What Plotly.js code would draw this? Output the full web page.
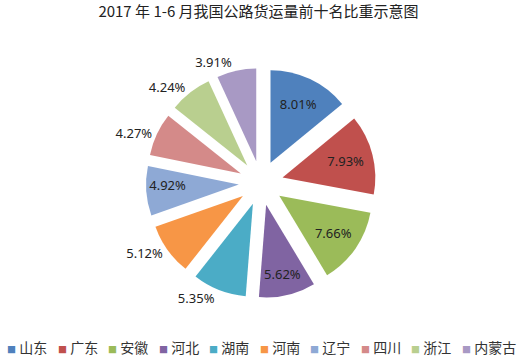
<!DOCTYPE html>
<html><head><meta charset="utf-8">
<script src="https://cdn.plot.ly/plotly-3.0.1.min.js"></script>
<style>body{margin:0;background:#fff}</style>
</head><body><div id="chart" style="width:517px;height:361px"></div>
<script>
const provinces = ['山东','广东','安徽','河北','湖南','河南','辽宁','四川','浙江','内蒙古'];
const shares = [8.01, 7.93, 7.66, 5.62, 5.35, 5.12, 4.92, 4.27, 4.24, 3.91];
const colors = ['#4F81BD','#C0504D','#9BBB59','#8064A2','#4BACC6','#F79646','#8EA9D5','#D48A89','#B9CF8F','#A899C4'];
const labelPos = ['inside','inside','inside','inside','outside','outside','inside','outside','outside','outside'];

const W = 517, L = 20, R = 15, PW = W - L - R;
const annotations = provinces.map((p, i) => ({
  xref: 'paper', yref: 'paper',
  x: (5 + 50.5 * i - L) / PW, y: -0.213,
  xanchor: 'left', yanchor: 'middle',
  showarrow: false,
  text: '<span style="color:' + colors[i] + ';font-size:9px">■</span> ' + p,
  font: {family: 'Noto Sans CJK SC', size: 14, color: '#333'}
}));

Plotly.newPlot('chart', [{
  type: 'pie',
  labels: provinces,
  values: shares,
  marker: {colors: colors, line: {width: 0}},
  sort: false,
  direction: 'clockwise',
  rotation: 0,
  pull: 0.24,
  textposition: labelPos,
  texttemplate: '%{value:.2f}%',
  insidetextorientation: 'horizontal',
  textfont: {family: 'Noto Sans, DejaVu Sans', size: 13, color: '#222'},
  showlegend: false,
  hoverinfo: 'label+value'
}], {
  width: 517, height: 361,
  margin: {l: L, r: R, t: 68, b: 63},
  paper_bgcolor: '#fff',
  title: {text: '2017 年 1-6 月我国公路货运量前十名比重示意图', x: 0.5, xanchor: 'center', y: 1 - 12/361, yanchor: 'middle',
          font: {family: 'Noto Sans CJK SC', size: 15, color: '#222'}},
  annotations: annotations,
  showlegend: false
}, {staticPlot: true});
</script></body></html>
